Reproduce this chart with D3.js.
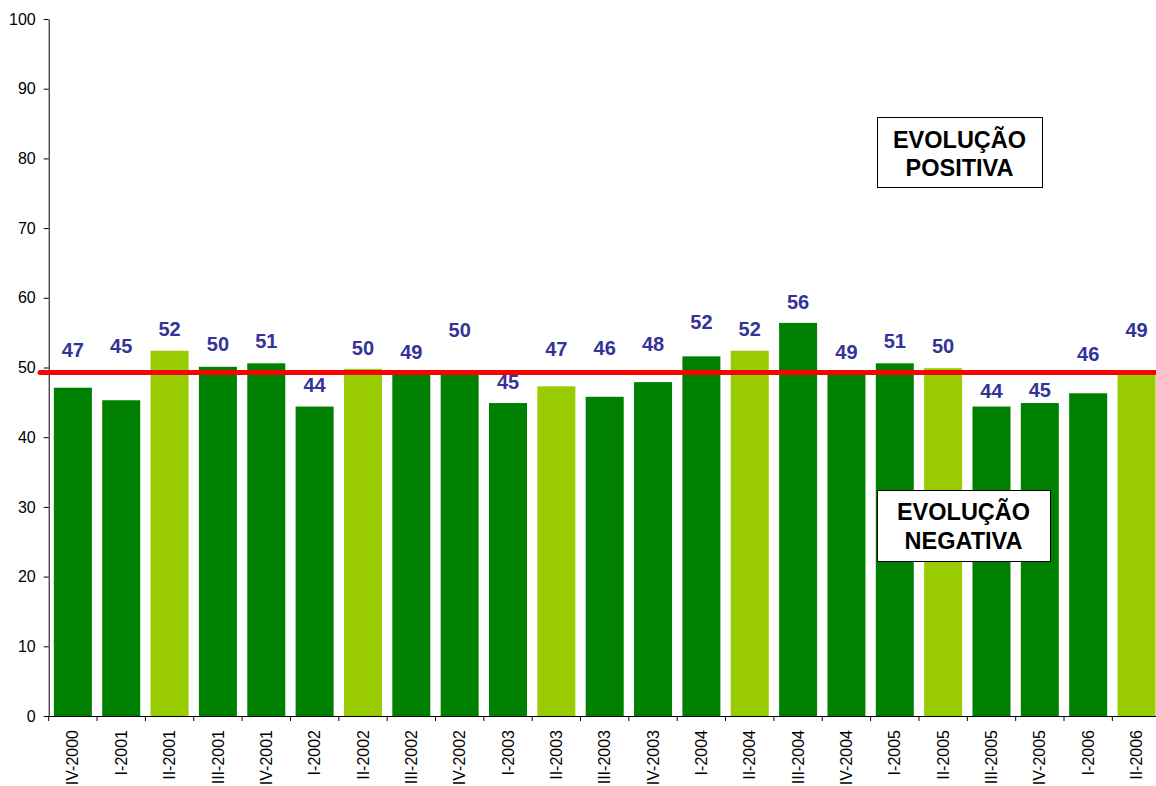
<!DOCTYPE html>
<html>
<head>
<meta charset="utf-8">
<script src="https://cdn.jsdelivr.net/npm/d3@7"></script>
<style>
  html, body { margin: 0; padding: 0; background: #ffffff; }
  svg { display: block; font-family: "Liberation Sans", Arial, sans-serif; }
</style>
</head>
<body>
<svg id="chart" width="1156" height="786"></svg>
<script>
// Quarterly index, Q4 2000 to Q2 2006
const quarters = [
  "IV-2000", "I-2001", "II-2001", "III-2001", "IV-2001",
  "I-2002", "II-2002", "III-2002", "IV-2002",
  "I-2003", "II-2003", "III-2003", "IV-2003",
  "I-2004", "II-2004", "III-2004", "IV-2004",
  "I-2005", "II-2005", "III-2005", "IV-2005",
  "I-2006", "II-2006"
];
const values = [
  47.1, 45.3, 52.4, 50.1, 50.6,
  44.4, 49.8, 49.2, 49.6,
  44.9, 47.3, 45.8, 47.9,
  51.6, 52.4, 56.4, 49.2,
  50.6, 49.9, 44.4, 44.9,
  46.3, 49.2
];
// Neutral threshold between positive and negative evolution
const threshold = 49.3;
const yTicks = [0, 10, 20, 30, 40, 50, 60, 70, 80, 90, 100];

// Extra lift (px) of individual value labels above their bars
const labelRaise = [
  17, 33, 1, 2, 1,
  1, 0, 0, 19,
  0, 16, 28, 17,
  13, 1, 0, 0,
  1, 1, -5, -8,
  18, 22
];

const FONT = "'Liberation Sans', Arial, sans-serif";
const svg = d3.select("#chart");
const plotLeft = 48.7, plotRight = 1160.7, plotTop = 19, plotBottom = 716;

const x = d3.scaleBand()
  .domain(quarters)
  .range([plotLeft, plotRight])
  .paddingInner(0.214)
  .paddingOuter(0.107);

const y = d3.scaleLinear().domain([0, 100]).range([plotBottom, plotTop]);

const darkGreen = "#008000", lightGreen = "#99cc00";
const colorOf = q => q.startsWith("II-") ? lightGreen : darkGreen;

// Bars
svg.append("g")
  .selectAll("rect")
  .data(quarters)
  .join("rect")
  .attr("x", q => x(q))
  .attr("width", x.bandwidth())
  .attr("y", (q, i) => y(values[i]))
  .attr("height", (q, i) => y(0) - y(values[i]))
  .attr("fill", colorOf);

// Y axis
const yAxis = svg.append("g")
  .attr("transform", `translate(${plotLeft},0)`)
  .call(d3.axisLeft(y).tickValues(yTicks).tickSizeInner(5).tickSizeOuter(0).tickPadding(8));
yAxis.select(".domain").attr("stroke", "#000");
yAxis.selectAll(".tick line").attr("stroke", "#000");
yAxis.selectAll(".tick text")
  .attr("font-size", 16)
  .attr("font-family", FONT)
  .attr("fill", "#000");

// X axis: baseline and category labels
const xAxis = svg.append("g")
  .attr("transform", `translate(0,${plotBottom})`)
  .call(d3.axisBottom(x).tickSize(0).tickSizeOuter(0));
xAxis.select(".domain").attr("stroke", "#000");
xAxis.selectAll(".tick text")
  .attr("font-size", 16)
  .attr("font-family", FONT)
  .attr("fill", "#000")
  .attr("text-anchor", "end")
  .attr("transform", "translate(0,14) rotate(-90)")
  .attr("x", 0)
  .attr("y", 0)
  .attr("dy", "0.35em");

// Tick marks between categories
const gap = x.step() - x.bandwidth();
const boundaries = quarters.map(q => x(q) - gap / 2)
  .concat([x(quarters[quarters.length - 1]) + x.bandwidth() + gap / 2]);
svg.append("g")
  .selectAll("line")
  .data(boundaries)
  .join("line")
  .attr("x1", d => d).attr("x2", d => d)
  .attr("y1", plotBottom).attr("y2", plotBottom + 5)
  .attr("stroke", "#000");

// Threshold line
svg.append("line")
  .attr("x1", 40).attr("x2", 1160)
  .attr("y1", y(threshold)).attr("y2", y(threshold))
  .attr("stroke", "#ff0000")
  .attr("stroke-width", 5)
  .attr("stroke-linecap", "round");

// Value labels
svg.append("g")
  .selectAll("text")
  .data(quarters)
  .join("text")
  .attr("x", q => x(q) + x.bandwidth() / 2)
  .attr("y", (q, i) => y(values[i]) - 14 - labelRaise[i])
  .attr("text-anchor", "middle")
  .attr("font-family", FONT)
  .attr("font-size", 20)
  .attr("font-weight", "bold")
  .attr("fill", "#333399")
  .text((q, i) => d3.format(".0f")(values[i]));

// Annotation boxes
const notes = [
  { lines: ["EVOLUÇÃO", "POSITIVA"], box: [877, 117, 165, 70], base: [148, 176] },
  { lines: ["EVOLUÇÃO", "NEGATIVA"], box: [877, 490, 173, 71], base: [520, 549] }
];
notes.forEach(n => {
  const g = svg.append("g");
  g.append("rect")
    .attr("x", n.box[0] + 0.5).attr("y", n.box[1] + 0.5)
    .attr("width", n.box[2]).attr("height", n.box[3])
    .attr("fill", "#ffffff")
    .attr("stroke", "#000")
    .attr("stroke-width", 1);
  n.lines.forEach((t, i) => {
    g.append("text")
      .attr("x", n.box[0] + n.box[2] / 2)
      .attr("y", n.base[i])
      .attr("text-anchor", "middle")
      .attr("font-family", FONT)
      .attr("font-size", 23.5)
      .attr("font-weight", "bold")
      .attr("fill", "#000")
      .text(t);
  });
});
</script>
</body>
</html>
